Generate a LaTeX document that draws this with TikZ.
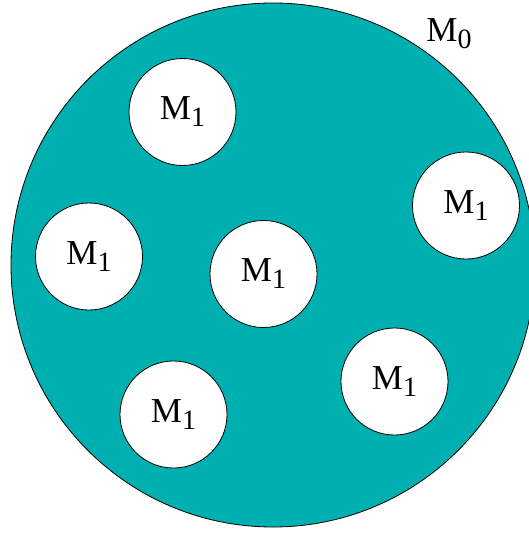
\documentclass[tikz,border=0pt]{standalone}
\usepackage{fontspec}
\setmainfont{Liberation Serif}
\definecolor{teal0}{RGB}{0,176,176}
\newcommand\mlabel[1]{M\raisebox{-7pt}{\fontsize{28}{30}\selectfont #1}}
\begin{document}
\begin{tikzpicture}[x=1pt,y=-1pt,
  inner/.style={circle,draw=black,line width=0.8pt,fill=white,minimum size=107pt,inner sep=0pt,
    font=\fontsize{35}{38}\selectfont},
  lbl/.style={font=\fontsize{35}{38}\selectfont,inner sep=0pt}]
\useasboundingbox (0,0) rectangle (529,533);
\clip (0,0) rectangle (529,533);
\node[circle,draw=black,line width=0.8pt,fill=teal0,minimum size=524pt,inner sep=0pt] (m0) at (273,265) {};
\node[inner] (a) at (182.5,112) {\mlabel{1}};
\node[inner] (b) at (466,205.5) {\mlabel{1}};
\node[inner] (c) at (89,256.5) {\mlabel{1}};
\node[inner] (d) at (263.5,274) {\mlabel{1}};
\node[inner] (e) at (394.5,381.5) {\mlabel{1}};
\node[inner] (f) at (173.5,414.5) {\mlabel{1}};
\node[lbl] (l0) at (449,34) {\mlabel{0}};
\end{tikzpicture}
\end{document}
